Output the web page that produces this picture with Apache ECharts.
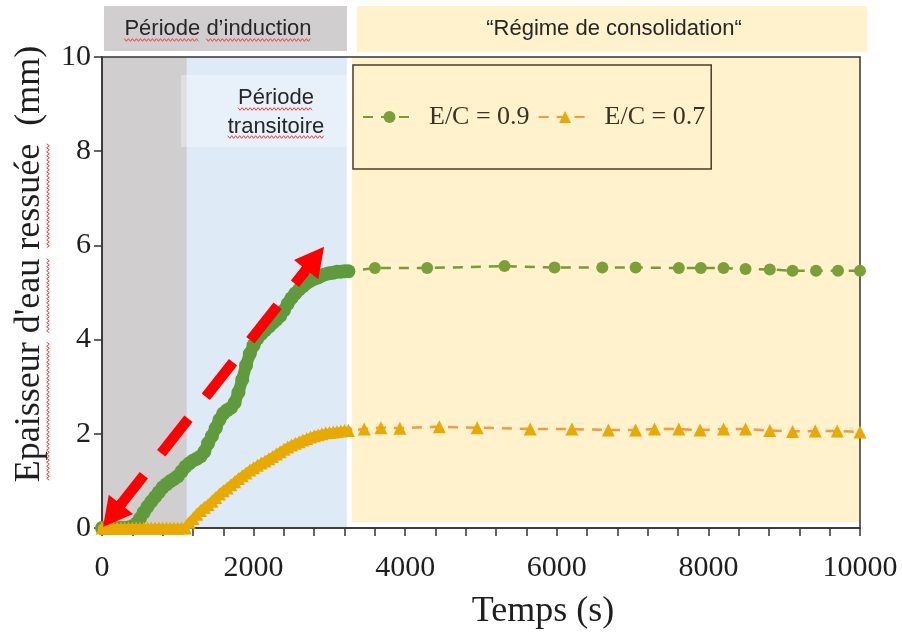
<!DOCTYPE html>
<html>
<head>
<meta charset="utf-8">
<script src="https://cdn.jsdelivr.net/npm/echarts@6/dist/echarts.min.js"></script>
<style>
html,body{margin:0;padding:0;background:#ffffff;}
#chart{width:902px;height:643px;}
</style>
</head>
<body>
<div id="chart"></div>
<script>
// ---------------- data ----------------
const denseTime = [0,50,100,150,200,250,300,350,400,450,500,550,600,650,700,750,800,850,900,950,
  1000,1050,1100,1150,1200,1250,1300,1350,1400,1450,1500,1550,1600,1650,1700,1750,1800,1850,1900,1950,
  2000,2050,2100,2150,2200,2250,2300,2350,2400,2450,2500,2550,2600,2650,2700,2750,2800,2850,2900,2950,
  3000,3050,3100,3150,3200,3250];
const green09Dense = [0,0,0,0,0,0,0,0.01,0.03,0.09,0.2,0.33,0.45,0.56,0.66,0.76,0.86,0.93,0.99,1.04,
  1.1,1.2,1.3,1.37,1.43,1.47,1.52,1.62,1.8,1.95,2.12,2.3,2.43,2.5,2.55,2.66,2.88,3.15,3.45,3.7,
  3.88,4.02,4.12,4.2,4.27,4.35,4.42,4.5,4.62,4.76,4.88,4.98,5.06,5.13,5.2,5.25,5.29,5.32,5.36,5.39,
  5.41,5.42,5.44,5.44,5.45,5.45];
const orange07Dense = [0,0,0,0,0,0,0,0,0,0,0,0,0,0,0,0,0,0,0,0,
  0,0,0,0.12,0.2,0.29,0.37,0.44,0.5,0.57,0.65,0.72,0.79,0.85,0.92,0.98,1.05,1.11,1.17,1.23,
  1.28,1.33,1.38,1.42,1.47,1.52,1.57,1.62,1.67,1.72,1.76,1.8,1.83,1.87,1.9,1.93,1.96,1.98,2.0,2.02,
  2.03,2.04,2.05,2.06,2.07,2.07];
const green09Time  = [3600,4290,5310,5970,6600,7040,7610,7900,8200,8490,8810,9110,9420,9710,10000];
const green09Value = [5.52,5.52,5.56,5.53,5.53,5.53,5.52,5.52,5.52,5.5,5.49,5.46,5.46,5.46,5.46];
const orange07Time  = [3460,3680,3930,4450,4950,5650,6200,6680,7040,7290,7610,7890,8200,8490,8810,9110,9410,9700,10000];
const orange07Value = [2.1,2.13,2.12,2.15,2.13,2.1,2.1,2.08,2.08,2.1,2.1,2.08,2.1,2.1,2.07,2.05,2.06,2.06,2.04];
const seriesNames = ['E/C = 0.9', 'E/C = 0.7'];
// periods (s): induction, transition, consolidation
const periodStart = [0, 1120, 3300];
const periodEnd   = [1120, 3230, 10000];
const periodLabels = ['Période d\u2019induction', 'P\u00e9riode\ntransitoire', '\u201cR\u00e9gime de consolidation\u201c'];
// arrow (time, thickness) from tail tip to head tip
const arrowFrom = [13, 0.02];
const arrowTo   = [2930, 5.97];
const xRange = [0, 10000, 2000];
const yRange = [0, 10, 2];
const xTitle = 'Temps (s)';
const yTitle = 'Epaisseur d\'eau ressu\u00e9e  (mm)';

// ---------------- build ----------------
const pair = (t, v) => t.map((x, i) => [x, v[i]]);
const greenAll = pair(denseTime, green09Dense).concat(pair(green09Time, green09Value));
const orangeAll = pair(denseTime, orange07Dense).concat(pair(orange07Time, orange07Value));
const bandData = periodStart.map((s, i) => [s, periodEnd[i], i === 2 ? 0.12 : 0, 10]);
const bandColors = ['#D0CECE', '#DEEBF7', '#FFF2CC'];

const mctx = document.createElement('canvas').getContext('2d');
function tw(str, font) { mctx.font = font; return mctx.measureText(str).width; }
function zig(a, b, c, vertical) {
  const pts = []; let k = 0;
  for (let p = a; p <= b; p += 2) { const o = (k++ % 2 ? 1.3 : -1.3); pts.push(vertical ? [c + o, p] : [p, c + o]); }
  return { type: 'polyline', shape: { points: pts }, style: { stroke: '#f03a3a', lineWidth: 1, fill: null }, z: 50 };
}
function underlineWords(text, words, font, cx, cy, offset, vertical) {
  const total = tw(text, font); const out = [];
  words.forEach(w => {
    const i = text.indexOf(w);
    const a = tw(text.slice(0, i), font), b = a + tw(w, font);
    if (!vertical) out.push(zig(cx - total / 2 + a, cx - total / 2 + b, cy + offset, false));
    else out.push(zig(cy + total / 2 - b, cy + total / 2 - a, cx + offset, true));
  });
  return out;
}

const headerFont = '22px "Liberation Sans"';
const serif = '"Liberation Serif", "Times New Roman", serif';
const textDark = '#1e1e1e';

const graphics = [
  { type: 'rect', shape: { x: 104, y: 6, width: 243, height: 45 }, style: { fill: '#D0CECE' }, z: 1 },
  { type: 'rect', shape: { x: 357, y: 6, width: 510, height: 46 }, style: { fill: '#FFF2CC' }, z: 1 },
  { type: 'text', x: 218, y: 29, style: { text: periodLabels[0], font: headerFont, fill: '#262626', align: 'center', verticalAlign: 'middle', textAlign: 'center', textVerticalAlign: 'middle' }, z: 5 },
  { type: 'text', x: 614, y: 29, style: { text: periodLabels[2], font: headerFont, fill: '#262626', align: 'center', verticalAlign: 'middle', textAlign: 'center', textVerticalAlign: 'middle' }, z: 5 },
  { type: 'rect', shape: { x: 181, y: 75, width: 166, height: 72 }, style: { fill: 'rgba(255,255,255,0.32)' }, z: 1 },
  { type: 'text', x: 276, y: 112, style: { text: periodLabels[1], font: headerFont, lineHeight: 29, fill: '#262626', align: 'center', verticalAlign: 'middle', textAlign: 'center', textVerticalAlign: 'middle' }, z: 5 },
  { type: 'text', x: 543, y: 612, style: { text: xTitle, font: '36px ' + serif, fill: textDark, align: 'center', verticalAlign: 'middle', textAlign: 'center', textVerticalAlign: 'middle' }, z: 5 },
  { type: 'text', x: 30, y: 264, rotation: Math.PI / 2, style: { text: yTitle, font: '36px ' + serif, fill: textDark, align: 'center', verticalAlign: 'middle', textAlign: 'center', textVerticalAlign: 'middle' }, z: 5 }
].concat(
  underlineWords(periodLabels[0], ['Période', 'd\u2019induction'], headerFont, 218, 29, 11, false),
  underlineWords('P\u00e9riode', ['P\u00e9riode'], headerFont, 276, 98, 11, false),
  underlineWords('transitoire', ['transitoire'], headerFont, 276, 126, 11, false),
  underlineWords(yTitle, ['Epaisseur', 'd\'eau', 'ressu\u00e9e'], '36px "Liberation Serif"', 30, 264, 18, true)
);

const axisColor = '#333333';
const chart = echarts.init(document.getElementById('chart'), null, { renderer: 'canvas' });
chart.setOption({
  animation: false,
  backgroundColor: '#ffffff',
  grid: { left: 102, right: 42, top: 57, bottom: 115, show: true, borderColor: axisColor, borderWidth: 1.5, backgroundColor: 'transparent', containLabel: false, outerBoundsMode: 'none' },
  xAxis: {
    type: 'value', min: xRange[0], max: xRange[1], interval: xRange[2],
    axisLine: { show: true, lineStyle: { color: axisColor, width: 1.5 } },
    axisTick: { show: true, length: 8, lineStyle: { color: axisColor, width: 1.5 } },
    minorTick: { show: true, splitNumber: 5, length: 8, lineStyle: { color: axisColor, width: 1.5 } },
    splitLine: { show: false },
    axisLabel: { fontFamily: serif, fontSize: 30, color: textDark, margin: 25, formatter: v => String(v) }
  },
  yAxis: {
    type: 'value', min: yRange[0], max: yRange[1], interval: yRange[2],
    axisLine: { show: true, lineStyle: { color: axisColor, width: 1.5 } },
    axisTick: { show: true, length: 8, lineStyle: { color: axisColor, width: 1.5 } },
    splitLine: { show: false },
    axisLabel: { fontFamily: serif, fontSize: 30, color: textDark, margin: 11, formatter: v => String(v) }
  },
  legend: {
    data: seriesNames,
    left: 353, top: 65,
    padding: [39, 6, 39, 9],
    itemWidth: 53, itemHeight: 15, itemGap: 8,
    backgroundColor: '#FFF2CC', borderColor: '#4a3f26', borderWidth: 1.5, borderRadius: 0,
    textStyle: { fontFamily: serif, fontSize: 26, color: '#3b3221', padding: [0, 0, 0, 8] },
    selectedMode: false
  },
  graphic: graphics,
  series: [
    {
      type: 'custom', name: 'bands', z: -1, silent: true, clip: false,
      data: bandData, encode: { x: [0, 1], y: [2, 3] },
      renderItem: (params, api) => {
        const p0 = api.coord([api.value(0), api.value(3)]);
        const p1 = api.coord([api.value(1), api.value(2)]);
        return { type: 'rect', shape: { x: p0[0], y: p0[1], width: p1[0] - p0[0], height: p1[1] - p0[1] }, style: { fill: bandColors[params.dataIndex] } };
      }
    },
    {
      type: 'line', name: seriesNames[0], data: greenAll, z: 3,
      symbol: 'circle', symbolSize: 12,
      itemStyle: { color: '#7ba136' },
      lineStyle: { color: '#7a9a32', width: 2.5, type: [10, 8] }
    },
    {
      type: 'line', name: 'dense09', data: pair(denseTime, green09Dense), z: 4,
      symbol: 'circle', symbolSize: 14,
      itemStyle: { color: '#5f9b3c' },
      lineStyle: { color: '#5f9b3c', width: 12, cap: 'round', join: 'round' }
    },
    {
      type: 'line', name: 'dense07', data: pair(denseTime, orange07Dense), z: 4.5,
      symbol: 'none',
      lineStyle: { color: '#e8aa00', width: 8, cap: 'round', join: 'round' }
    },
    {
      type: 'line', name: seriesNames[1], data: orangeAll, z: 5,
      symbol: 'triangle', symbolSize: 13,
      itemStyle: { color: '#e8aa00' },
      lineStyle: { color: '#f29a3e', width: 2.5, type: [10, 8] }
    },
    {
      type: 'custom', name: 'arrow', z: 10, silent: true, clip: false,
      data: [[arrowFrom[0], arrowFrom[1], arrowTo[0], arrowTo[1]]], encode: { x: [0, 2], y: [1, 3] },
      renderItem: (params, api) => {
        const a = api.coord([api.value(0), api.value(1)]);
        const b = api.coord([api.value(2), api.value(3)]);
        const dx = b[0] - a[0], dy = b[1] - a[1], len = Math.hypot(dx, dy);
        const ux = dx / len, uy = dy / len, px = -uy, py = ux;
        const L = 29, W = 31, s0 = 17;
        const head = (t, dir) => {
          const bx = t[0] - dir * ux * L, by = t[1] - dir * uy * L;
          return { type: 'polygon', shape: { points: [t, [bx + px * W / 2, by + py * W / 2], [bx - px * W / 2, by - py * W / 2]] }, style: { fill: '#ff0000' } };
        };
        const dash = [44, 28], first = 22;
        return {
          type: 'group', children: [
            { type: 'line', shape: { x1: a[0] + ux * s0, y1: a[1] + uy * s0, x2: b[0] - ux * s0, y2: b[1] - uy * s0 },
              style: { stroke: '#ff0000', lineWidth: 10.5, lineDash: dash, lineDashOffset: (dash[0] + dash[1]) - (first - s0), lineCap: 'butt' } },
            head(a, -1), head(b, 1)
          ]
        };
      }
    }
  ]
});
</script>
</body>
</html>
